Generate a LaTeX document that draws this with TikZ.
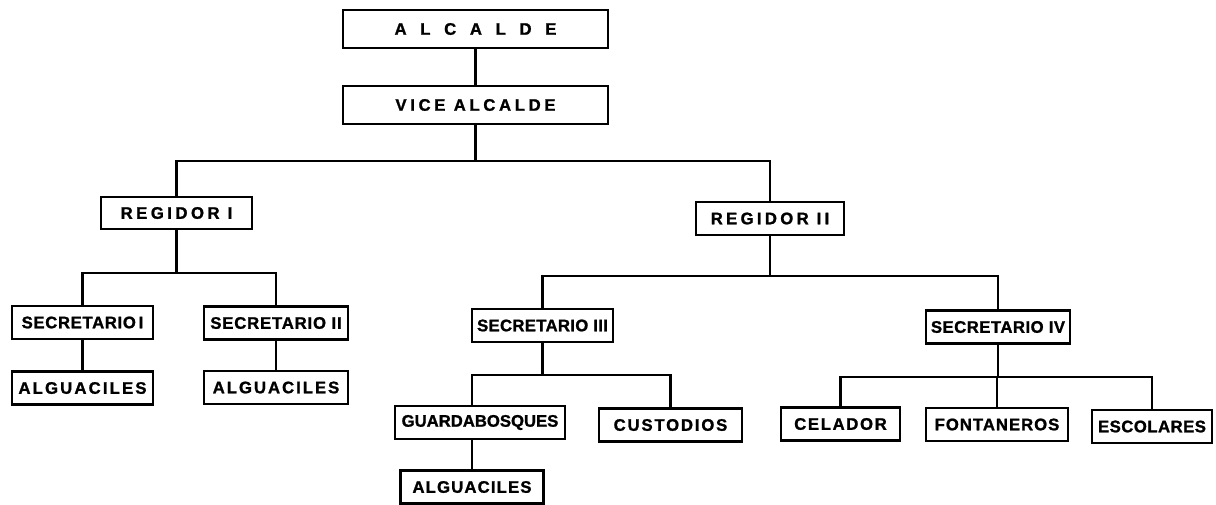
\documentclass[tikz,border=0pt]{standalone}
\usepackage{fontspec}
\usepackage{tikz}
\usetikzlibrary{positioning, calc}
\newfontfamily\orgfont{Liberation Sans Bold}[FakeBold=1.3]

\tikzset{
  cargo/.style={draw, line width=1.3pt, inner sep=0pt, minimum height=0.66cm,
    font=\orgfont\fontsize{9.5}{9.5}\selectfont\addfontfeature{LetterSpace=#1}},
  cargo/.default=8,
  enlace/.style={line width=1.3pt},
}

\begin{document}
\begin{tikzpicture}[x=0.02cm, y=-0.02cm]
        \useasboundingbox (0,0) rectangle (1216,504);
        % Cabeza del ayuntamiento
        \node[cargo=82, minimum width=5.30cm, minimum height=0.76cm] (alc) at (475.5,29) {ALCALDE};
        \node[cargo=22, minimum width=5.30cm, minimum height=0.76cm] (vice) at (475.5,105) {VICE ALCALDE};
        % Regidores
        \node[cargo=21, minimum width=3.02cm, minimum height=0.64cm] (reg1) at (176.5,213) {REGIDOR I};
        \node[cargo=20, minimum width=2.96cm] (reg2) at (770,218.5) {REGIDOR II};
        % Secretarios
        \node[cargo=4, minimum width=2.82cm] (sec1) at (82.5,322.5) {SECRETARIO\,I};
        \node[cargo=5, minimum width=2.88cm] (sec2) at (276,323) {SECRETARIO II};
        \node[cargo=2, minimum width=2.82cm] (sec3) at (542.5,325.5) {SECRETARIO III};
        \node[cargo=3, minimum width=2.88cm] (sec4) at (998,327) {SECRETARIO IV};
        % Personal
        \node[cargo=13, minimum width=2.82cm] (alg1) at (82.5,388) {ALGUACILES};
        \node[cargo=12, minimum width=2.88cm] (alg2) at (276,387.5) {ALGUACILES};
        \node[cargo=0, minimum width=3.40cm] (guard) at (480,422.5) {GUARDABOSQUES};
        \node[cargo=11, minimum width=2.86cm] (cust) at (670.5,425) {CUSTODIOS};
        \node[cargo=7, minimum width=2.86cm] (alg3) at (472,487) {ALGUACILES};
        \node[cargo=10, minimum width=2.38cm] (cel) at (840.5,424) {CELADOR};
        \node[cargo=6, minimum width=2.84cm] (font) at (997,424.5) {FONTANEROS};
        \node[cargo=3, minimum width=2.40cm] (esc) at (1152,426.5) {ESCOLARES};
        % Puntos de las barras
        \coordinate (b0) at (475.5,161);
        \coordinate (b1) at (176.5,273);
        \coordinate (b2) at (770,276);
        \coordinate (b3) at (542.5,375);
        \coordinate (b4) at (998,377);
        % Lineas
        \draw[enlace] (alc) -- (vice);
        \draw[enlace] (vice) -- (b0);
        \draw[enlace] (reg1) |- (b0) -| (reg2);
        \draw[enlace] (reg1) -- (b1);
        \draw[enlace] (sec1) |- (b1) -| (sec2);
        \draw[enlace] (sec1) -- (alg1);
        \draw[enlace] (sec2) -- (alg2);
        \draw[enlace] (reg2) -- (b2);
        \draw[enlace] (sec3) |- (b2) -| (sec4);
        \draw[enlace] (sec3) -- (b3);
        \draw[enlace] (guard.north -| alg3) |- (b3) -| (cust);
        \draw[enlace] (guard.south -| alg3) -- (alg3);
        \draw[enlace] (sec4) -- (b4);
        \draw[enlace] (cel) |- (b4) -| (esc);
        \draw[enlace] (font) -- (font |- b4);
    \end{tikzpicture}
\end{document}
